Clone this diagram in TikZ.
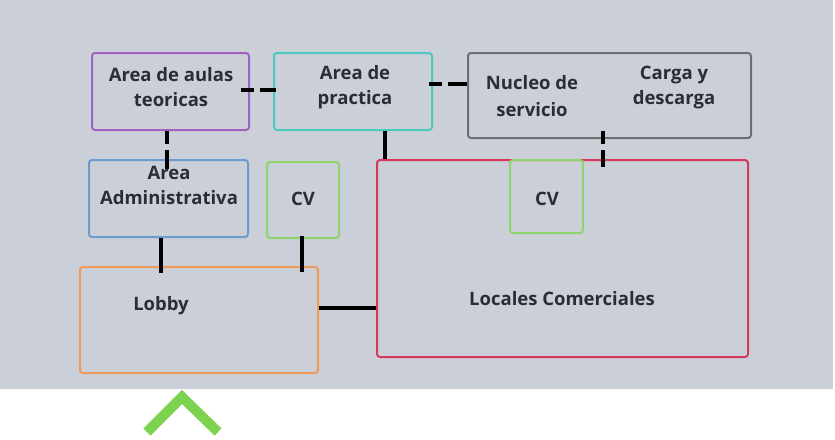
\documentclass[tikz,border=0pt]{standalone}
\usepackage{fontspec}
\setmainfont{Open Sans}
\usepackage{xcolor}
\usetikzlibrary{calc}
\definecolor{vbg}{HTML}{CBD0D8}
\definecolor{vtext}{HTML}{2A2D38}
\definecolor{vpurple}{HTML}{A062BE}
\definecolor{vteal}{HTML}{4CC8C0}
\definecolor{vgray}{HTML}{6E6E72}
\definecolor{vblue}{HTML}{6C9BCF}
\definecolor{vgreen}{HTML}{8FD46A}
\definecolor{vorange}{HTML}{EE9A5A}
\definecolor{vred}{HTML}{D8385E}
\definecolor{vchev}{HTML}{7DD24F}
\tikzset{
	roombox/.style = {draw, line width = 2pt, rounded corners = 3pt, inner sep = 0pt},
	lbl/.style = {text = vtext, align = center, font = \bfseries\fontsize{18.5}{25}\selectfont},
	conn/.style = {draw = black, line width = 4pt},
	dconn/.style = {conn, dash pattern = on 13pt off 6pt on 40pt}
}

\begin{document}
\begin{tikzpicture}[x = 1pt, y = -1pt]
	\useasboundingbox (0,0) rectangle (835,439);
	\fill[vbg] (0,0) rectangle (833,389);
	% rooms
	\node[roombox, draw = vpurple, minimum width = 157pt, minimum height = 77pt] (aulas) at (170.5,91.5) {};
	\node[roombox, draw = vteal, minimum width = 158pt, minimum height = 77pt] (practica) at (353,91.5) {};
	\node[roombox, draw = vgray, minimum width = 283pt, minimum height = 85pt] (nucleo) at (609.5,95.5) {};
	\node[roombox, draw = vblue, minimum width = 159pt, minimum height = 77pt] (admin) at (168.5,198.5) {};
	\node[roombox, draw = vgreen, minimum width = 72pt, minimum height = 76pt] (cvA) at (303,200) {};
	\node[roombox, draw = vorange, minimum width = 238pt, minimum height = 106pt] (lobby) at (199,320) {};
	\node[roombox, draw = vred, minimum width = 371pt, minimum height = 197pt] (locales) at (562.5,258.5) {};
	\node[roombox, draw = vgreen, minimum width = 73pt, minimum height = 73pt] (cvB) at (546.5,196.5) {};
	% links
	\coordinate (pl) at ($(locales.north west)+(9,0)$);
	\coordinate (nl) at ($(locales.north west)+(227,0)$);
	\draw[dconn] ($(aulas.east)+(-9,-1.5)$) -- ($(practica.west)+(3,-1.5)$);
	\draw[dconn] ($(practica.east)+(-4,-7.5)$) -- ($(nucleo.west |- practica.east)+(0,-7.5)$);
	\draw[dconn] ($(aulas.south)+(-3.5,0)$) -- ($(aulas.south |- admin.north)+(-3.5,10)$);
	\draw[conn] (pl) -- (pl |- practica.south);
	\draw[dconn] ($(nl |- nucleo.south)+(0,-8)$) -- ($(nl)+(0,8)$);
	\draw[conn] ($(admin.south)+(-7.5,0)$) -- ($(admin.south |- lobby.north)+(-7.5,7)$);
	\draw[conn] ($(cvA.south)+(-1,-3)$) -- ($(cvA.south |- lobby.north)+(-1,6)$);
	\draw[conn] ($(lobby.east)+(0,-12)$) -- ($(lobby.east -| locales.west)+(0,-12)$);
	% labels
	\node[lbl] (taulas) at (171,87) {Area de aulas\\teoricas};
	\node[lbl] (tpractica) at (355,87) {Area de\\practica};
	\node[lbl, font = \bfseries\fontsize{18.5}{27}\selectfont] (tnucleo) at (532,96) {Nucleo de\\servicio};
	\node[lbl] (tcarga) at (674,88) {Carga y\\descarga};
	\node[lbl] (tadmin) at (169,185) {Area\\Administrativa};
	\node[lbl] (tcvA) at (303,199) {CV};
	\node[lbl] (tcvB) at (547,199) {CV};
	\node[lbl] (tlobby) at (161,306) {Lobby};
	\node[lbl] (tlocales) at (562,299) {Locales Comerciales};
	% entrance
	\draw[vchev, line width = 10pt] (147,432) -- (182,397) -- (218,432);
\end{tikzpicture}
\end{document}
